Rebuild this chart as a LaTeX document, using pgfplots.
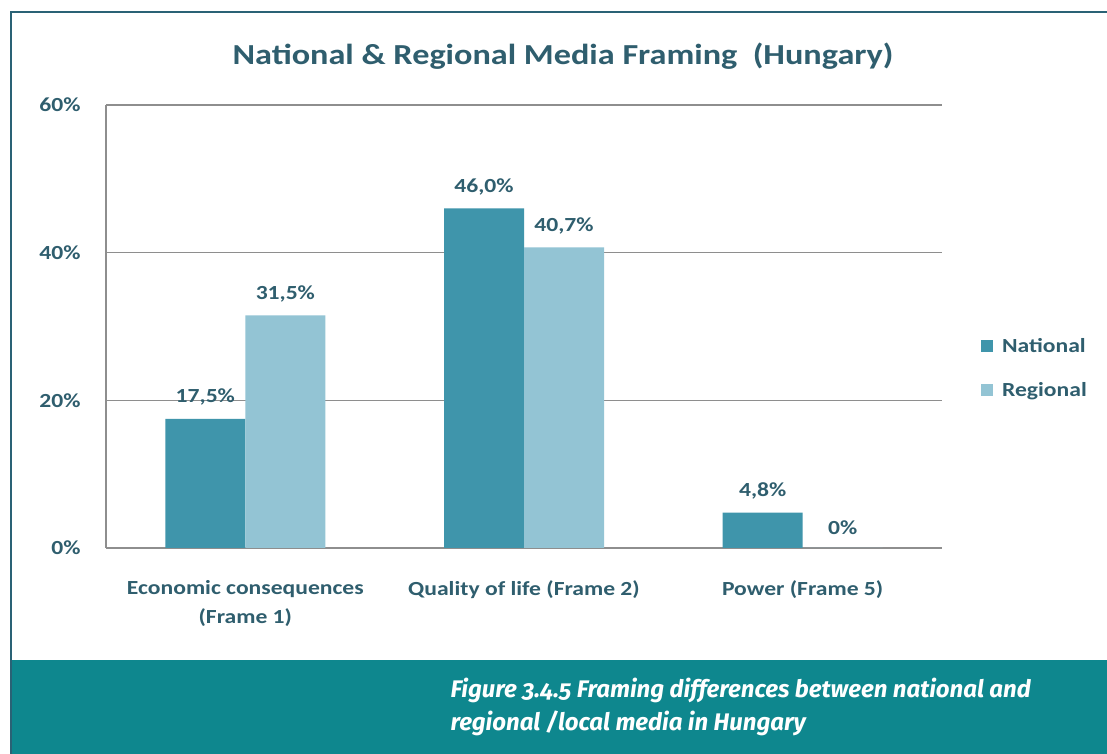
\documentclass[border=0pt]{standalone}
\usepackage{pgfplots}
\pgfplotsset{compat=1.18}
\usepackage{pgfplotstable}
\usepackage{fontspec}
\setmainfont[FakeStretch=1.18]{Carlito}
\newfontfamily\capfont[Numbers=OldStyle]{Fira Sans}
\definecolor{nat}{HTML}{3F95AB}
\definecolor{reg}{HTML}{93C4D4}
\definecolor{txt}{HTML}{2F5E6E}
\definecolor{banner}{HTML}{0E878E}
\definecolor{border}{HTML}{2A6275}
\definecolor{gridc}{HTML}{8E8E8E}
\pgfplotstableread{
x y lab
0 17.5 17,5
1 46.0 46,0
2 4.8 4,8
}\national
\pgfplotstableread{
x y lab
0 31.5 31,5
1 40.7 40,7
2 0 0
}\regional
\begin{document}
\begin{tikzpicture}
\useasboundingbox (0,0) rectangle (1107pt,754pt);
\fill[white] (0,0) rectangle (1107pt,754pt);
\fill[banner] (12pt,0) rectangle (1107pt,94pt);
\draw[border, line width=2pt] (11pt,0) -- (11pt,742pt) -- (1107pt,742pt);
\node[text=txt, font=\fontsize{29}{34}\selectfont\bfseries] at (563pt,698pt) {National \& Regional Media Framing\ \ (Hungary)};
\node[anchor=west, text=white, align=left, font=\capfont\fontsize{24}{33}\selectfont\bfseries\itshape] at (447pt,47pt) {Figure 3.4.5 Framing differences between national and\\regional /local media in Hungary};
\begin{axis}[
  at={(106pt,206pt)}, anchor=south west,
  scale only axis, width=836pt, height=443pt,
  xmin=-0.5, xmax=2.5, ymin=0, ymax=60,
  ybar=0pt, bar width=80pt,
  axis x line*=bottom, axis y line*=left,
  axis line style={gridc, line width=1.2pt, -},
  ymajorgrids, grid style={gridc, line width=1.2pt},
  major tick length=0pt,
  ytick={0,20,40,60}, yticklabels={0\%,20\%,40\%,60\%},
  xtick={0,1,2},
  xticklabels={Economic consequences\\(Frame 1), Quality of life (Frame 2), Power (Frame 5)},
  xticklabel style={align=center, text=txt, font=\fontsize{20}{29}\selectfont\bfseries, yshift=-29pt},
  yticklabel style={text=txt, font=\fontsize{20}{24}\selectfont\bfseries, xshift=-22pt},
  point meta=explicit symbolic,
  nodes near coords={\pgfplotspointmeta\%},
  every node near coord/.append style={text=txt, font=\fontsize{20}{24}\selectfont\bfseries, anchor=south, yshift=10pt},
  legend style={at={(1.043,0.406)}, anchor=west, draw=none, fill=none, font=\fontsize{20}{24}\selectfont\bfseries, text=txt, row sep=24pt},
  legend cell align=left,
  legend image code/.code={\fill[#1] (0pt,-6pt) rectangle (12pt,6pt);},
  /tikz/every odd column/.append style={column sep=7pt},
  clip=false,
]
\addplot[fill=nat, draw=none] table[x=x, y=y, meta=lab] {\national};
\addplot[fill=reg, draw=none] table[x=x, y=y, meta=lab] {\regional};
\legend{National, Regional}
\end{axis}
\end{tikzpicture}
\end{document}
